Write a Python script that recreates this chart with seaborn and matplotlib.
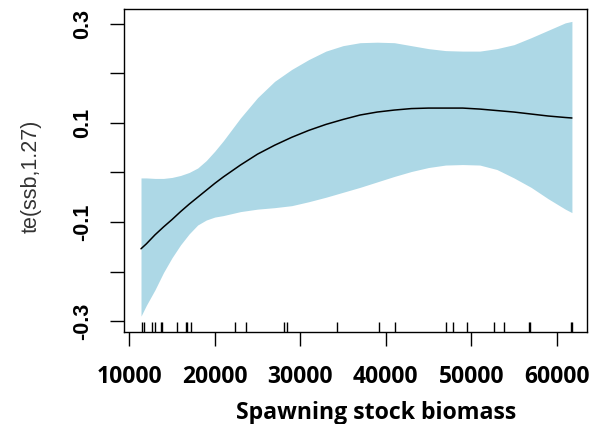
import numpy as np
import pandas as pd
import matplotlib
matplotlib.use("Agg")
import matplotlib.pyplot as plt
import seaborn as sns

# Smooth term for spawning stock biomass: estimate and confidence band
ssb = [11370, 12000, 13000, 14000, 15000, 16000, 17000, 18000, 19000, 20000,
       21000, 22000, 23000, 25000, 27000, 29000, 31000, 33000, 35000, 37000,
       39000, 41000, 43000, 45000, 47000, 49000, 51000, 53000, 55000, 57000,
       59000, 61000, 61780]
fit = [-0.154, -0.144, -0.126, -0.110, -0.095, -0.079, -0.064, -0.050, -0.036, -0.022,
       -0.009, 0.003, 0.015, 0.037, 0.055, 0.071, 0.085, 0.097, 0.107, 0.116,
       0.122, 0.126, 0.129, 0.130, 0.130, 0.130, 0.128, 0.125, 0.122, 0.118,
       0.114, 0.111, 0.110]
upper = [-0.011, -0.011, -0.012, -0.012, -0.010, -0.006, 0.000, 0.009, 0.024, 0.043,
         0.064, 0.087, 0.110, 0.151, 0.184, 0.208, 0.228, 0.245, 0.256, 0.262,
         0.263, 0.262, 0.256, 0.250, 0.246, 0.245, 0.245, 0.250, 0.258, 0.272,
         0.287, 0.302, 0.305]
lower = [-0.290, -0.268, -0.237, -0.202, -0.172, -0.146, -0.124, -0.106, -0.096, -0.090,
         -0.087, -0.083, -0.079, -0.074, -0.071, -0.067, -0.059, -0.050, -0.040, -0.030,
         -0.019, -0.008, 0.002, 0.010, 0.015, 0.016, 0.015, 0.006, -0.011, -0.030,
         -0.053, -0.074, -0.081]

# Observed SSB values (rug)
ssb_obs = [11446, 11758, 12694, 13006, 13669, 13825, 15618, 16593, 16788, 17178,
           22362, 23610, 28131, 28482, 34330, 39243, 41076, 47002, 47821, 49536,
           52616, 53825, 56749, 56866, 61661, 61778]

x_ticks = [10000, 20000, 30000, 40000, 50000, 60000]
x_tick_labels = ["10000", "20000", "30000", "40000", "50000", "60000"]
y_ticks = [-0.3, -0.2, -0.1, 0.0, 0.1, 0.2, 0.3]
y_tick_labels = ["-0.3", "", "-0.1", "", "0.1", "", "0.3"]

df = pd.DataFrame({"ssb": ssb, "fit": fit, "upper": upper, "lower": lower})

sns.set_style("white")
plt.rcParams["font.family"] = ["Liberation Sans", "DejaVu Sans"]

W, H, DPI = 590, 424, 100
fig = plt.figure(figsize=(W / DPI, H / DPI), dpi=DPI)
ax = fig.add_axes([124 / W, 1 - 332 / H, (587 - 124) / W, (332 - 9) / H])

ax.fill_between(df["ssb"], df["lower"], df["upper"], color="#ADD8E6", lw=0)
sns.lineplot(data=df, x="ssb", y="fit", color="black", lw=1.1, ax=ax)
sns.rugplot(x=ssb_obs, height=0.031, color="black", lw=1.4, ax=ax)

ax.set_xlim(9380, 63545)
ax.set_ylim(-0.322, 0.330)

ax.set_xticks(x_ticks)
ax.set_xticklabels(x_tick_labels, fontfamily="Open Sans", fontweight="bold", fontsize=16.5)
ax.set_yticks(y_ticks)
ax.set_yticklabels(y_tick_labels, fontweight="bold", fontsize=15.5, rotation=90, va="center")

ax.tick_params(axis="x", length=10, width=1, color="black", pad=13.5, labelcolor="black")
ax.tick_params(axis="y", length=10, width=1, color="black", pad=12, labelcolor="black")
ax.tick_params(left=True, bottom=True)

for s in ax.spines.values():
    s.set_visible(True)
    s.set_color("black")
    s.set_linewidth(1.0)

ax.set_xlabel("")
ax.set_ylabel("")

renderer = fig.canvas.get_renderer()

def fit_width(t, target_px):
    bb = t.get_window_extent(renderer)
    t.set_fontsize(t.get_fontsize() * target_px / bb.width)

xl = fig.text(376 / W, 1 - 413 / H, "Spawning stock biomass", ha="center", va="center",
              fontfamily="Open Sans", fontweight="bold", fontsize=14, color="black")
fit_width(xl, 282)

fig.text(31 / W, 1 - 176 / H, "te(ssb,1.27)", ha="center", va="center",
         rotation=90, fontsize=15.5, color="#333333")

fig.savefig("out.png", dpi=DPI)
